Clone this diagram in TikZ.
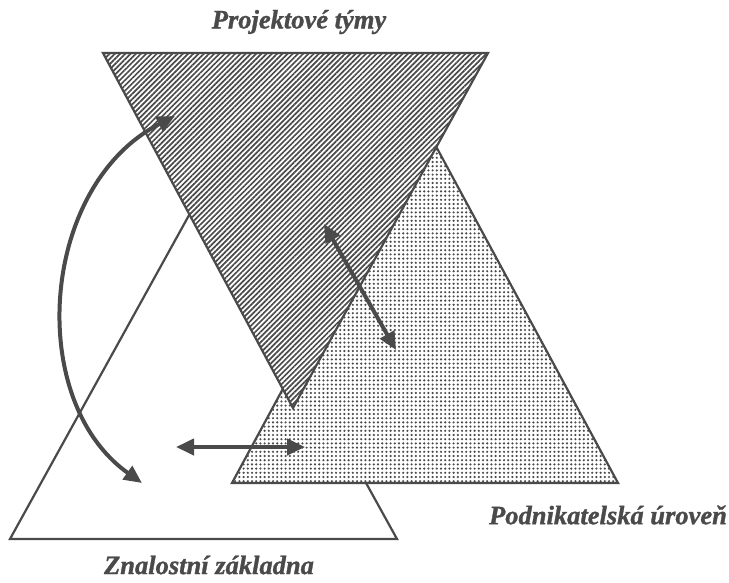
\documentclass[tikz,border=0pt]{standalone}
\usepackage{fontspec}
\setmainfont{Liberation Serif}
\newfontfamily\lblfont{Liberation Serif Bold Italic}[FakeBold=1.2]
\usetikzlibrary{arrows.meta,patterns.meta}
\definecolor{ink}{HTML}{4A4A4A}
\definecolor{pat}{HTML}{4A4A4A}
\tikzset{
  tri/.style={draw=ink,line width=2.2pt,line join=miter},
  hatchtri/.style={tri,preaction={fill=white},pattern={Lines[angle=45,distance=3.7pt,line width=1.7pt]},pattern color=pat},
  dottri/.style={tri,preaction={fill=white},pattern={Dots[radius=1.2pt,distance=4.2pt]},pattern color=pat},
  link/.style={draw=ink,line width=4pt,{Triangle[length=18pt,width=16pt]}-{Triangle[length=18pt,width=16pt]}},
  lbl/.style={text=ink,font=\lblfont\fontsize{26.5}{30}\selectfont,inner sep=0pt}
}
\begin{document}
\begin{tikzpicture}[x=1pt,y=-1pt]
\useasboundingbox[fill=white] (0,0) rectangle (729,582);
% triangles
\coordinate (zA) at (10,539); \coordinate (zB) at (397,539); \coordinate (zC) at (203.5,189);
\coordinate (pA) at (232,483); \coordinate (pB) at (618,483); \coordinate (pC) at (425,126);
\coordinate (tA) at (103,53); \coordinate (tB) at (488,53); \coordinate (tC) at (293,408);
\path[tri,fill=white] (zA) -- (zB) -- (zC) -- cycle;
\path[dottri] (pA) -- (pB) -- (pC) -- cycle;
\path[hatchtri] (tA) -- (tB) -- (tC) -- cycle;
% arrow end points
\coordinate (a1) at (175,116); \coordinate (a2) at (142,483);
\coordinate (b1) at (324,224); \coordinate (b2) at (396,350);
\coordinate (c1) at (176,447); \coordinate (c2) at (305,447);
\draw[link] (a1) .. controls (40,185) and (25,400) .. (a2);
\draw[link] (b1) -- (b2);
\draw[link] (c1) -- (c2);
% labels
\node[lbl] (tl) at (299,22) {Projektové týmy};
\node[lbl] (zl) at (209,565) {Znalostní základna};
\node[lbl] (pl) at (608,515) {Podnikatelská úroveň};
\end{tikzpicture}
\end{document}
